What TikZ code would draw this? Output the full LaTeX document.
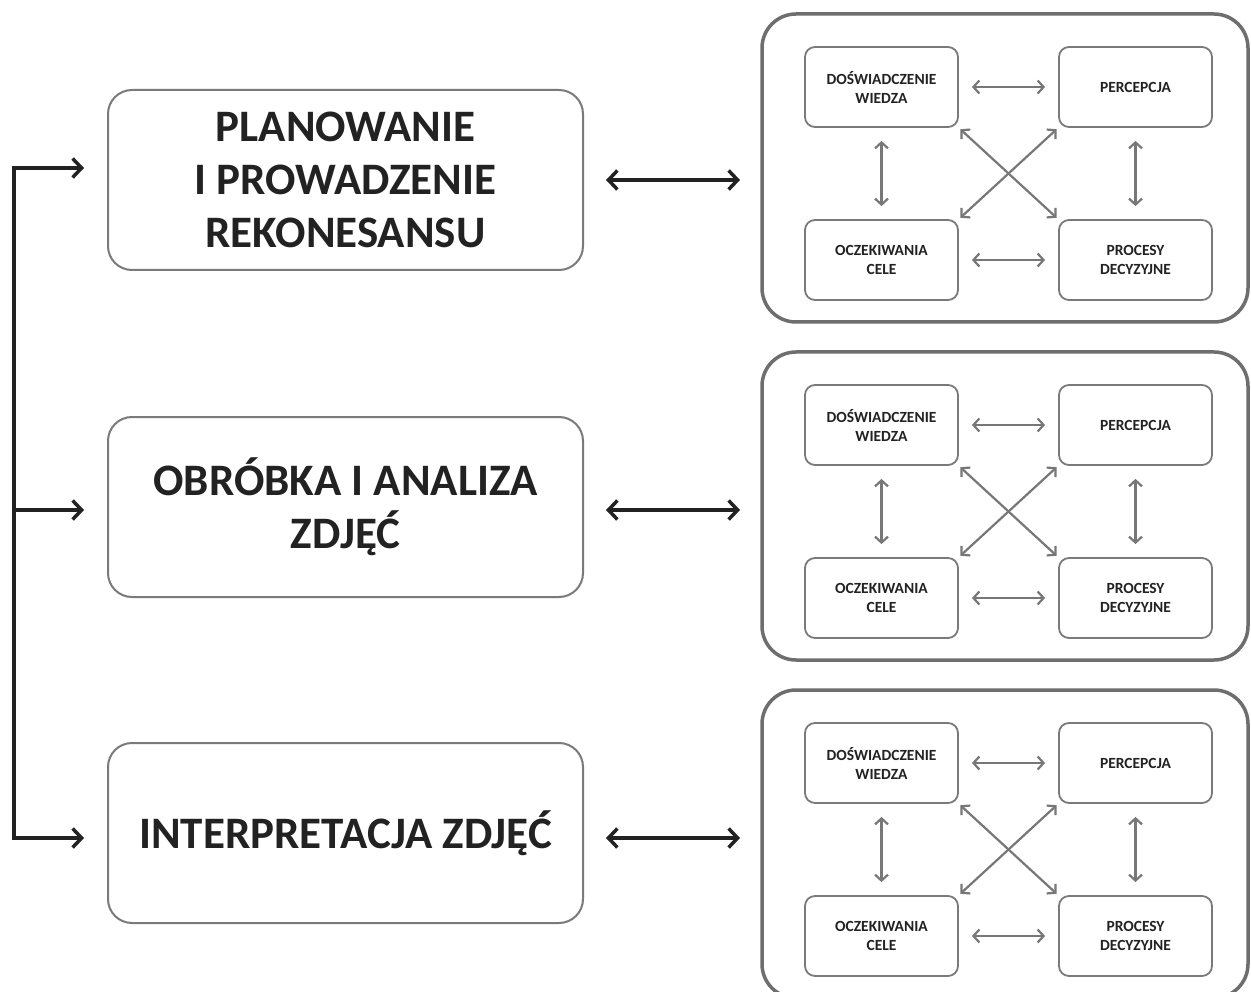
\documentclass[tikz,border=0pt]{standalone}
\usepackage{fontspec}
\setmainfont{Carlito}
\usetikzlibrary{arrows.meta}
\definecolor{boxgray}{HTML}{7A7A7A}
\definecolor{panelgray}{HTML}{6E6E6E}
\definecolor{arrgray}{HTML}{777777}
\definecolor{txt}{HTML}{222222}
\tikzset{
  bigbox/.style={draw=boxgray, line width=2pt, rounded corners=24pt, minimum width=475pt, minimum height=180pt, align=center, text=txt, font=\bfseries\fontsize{45}{53}\selectfont},
  panel/.style={draw=panelgray, line width=3.5pt, rounded corners=34pt},
  smallbox/.style={draw=boxgray, line width=1.8pt, rounded corners=10pt, minimum width=153pt, minimum height=80pt, align=center, text=txt, font=\bfseries\fontsize{15.5}{19}\selectfont},
  flow/.style={line width=3.5pt, draw=txt, -{Straight Barb[length=9pt,width=19pt,line width=3.5pt]}},
  bidir/.style={line width=3.5pt, draw=txt, {Straight Barb[length=9pt,width=19pt,line width=3.5pt]}-{Straight Barb[length=9pt,width=19pt,line width=3.5pt]}},
  small/.style={line width=2.2pt, draw=arrgray, {Straight Barb[length=6pt,width=13pt,line width=2.2pt]}-{Straight Barb[length=6pt,width=13pt,line width=2.2pt]}}
}
\begin{document}
\begin{tikzpicture}[x=1pt,y=-1pt]
\useasboundingbox (0,0) rectangle (1251,992);
\fill[white] (0,0) rectangle (1251,992);
% left boxes
\node[bigbox] (b1) at (345.5,180) {PLANOWANIE\\I PROWADZENIE\\REKONESANSU};
\node[bigbox] (b2) at (345.5,507) {OBRÓBKA I ANALIZA\\ZDJĘĆ};
\node[bigbox] (b3) at (345.5,833) {INTERPRETACJA ZDJĘĆ};
% left bracket
\coordinate (j1) at (14,168);
\coordinate (j2) at (14,510);
\coordinate (j3) at (14,838);
\draw[line width=3.5pt, draw=txt] (j1) -- (j3);
\draw[flow, shorten >=23pt] ([xshift=-1.75pt]j1) -- (b1.west |- j1);
\draw[flow, shorten >=23pt] (j2) -- (b2.west |- j2);
\draw[flow, shorten >=23pt] ([xshift=-1.75pt]j3) -- (b3.west |- j3);
% right panels
\foreach \i/\dy in {1/0,2/338,3/676}{
  \begin{scope}[yshift=-\dy pt]
    \draw[panel] (762,14) rectangle (1248,322);
    \node[smallbox] (tl\i) at (881.5,87) {DOŚWIADCZENIE\\WIEDZA};
    \node[smallbox] (tr\i) at (1135.5,87) {PERCEPCJA};
    \node[smallbox] (bl\i) at (881.5,260) {OCZEKIWANIA\\CELE};
    \node[smallbox] (br\i) at (1135.5,260) {PROCESY\\DECYZYJNE};
    \draw[small, shorten <=13pt, shorten >=13pt] (tl\i.east) -- (tr\i.west);
    \draw[small, shorten <=13pt, shorten >=13pt] (bl\i.east) -- (br\i.west);
    \draw[small, shorten <=13pt, shorten >=13pt] (tl\i.south) -- (bl\i.north);
    \draw[small, shorten <=13pt, shorten >=13pt] (tr\i.south) -- (br\i.north);
    \draw[small, shorten <=2pt, shorten >=2pt] (tl\i.south east) -- (br\i.north west);
    \draw[small, shorten <=2pt, shorten >=2pt] (tr\i.south west) -- (bl\i.north east);
  \end{scope}
}
\draw[bidir, shorten <=22pt, shorten >=22pt] (b1.east |- 0,180) -- (762,180);
\draw[bidir, shorten <=22pt, shorten >=22pt] (b2.east |- 0,510) -- (762,510);
\draw[bidir, shorten <=22pt, shorten >=22pt] (b3.east |- 0,838) -- (762,838);
\end{tikzpicture}
\end{document}
